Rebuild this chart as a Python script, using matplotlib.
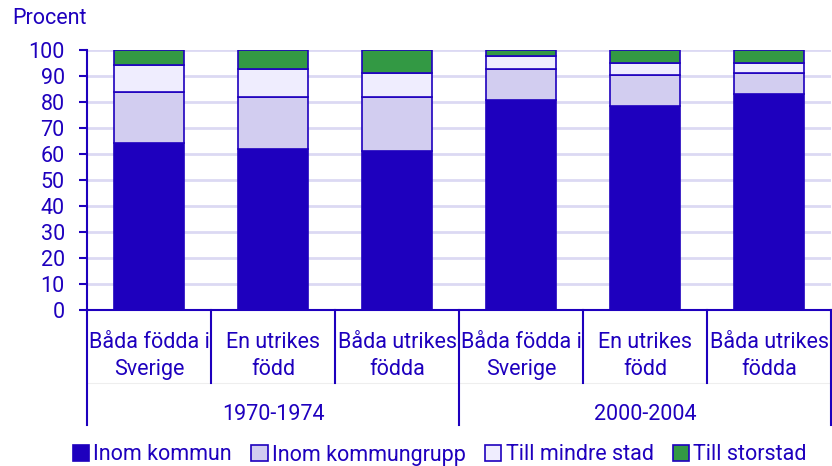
import matplotlib.pyplot as plt
import numpy as np

# Andel flyttningar per typ, uppdelat på föräldrarnas födelseland och period
groups = ['1970-1974', '2000-2004']
categories = ['Båda födda i\nSverige', 'En utrikes\nfödd', 'Båda utrikes\nfödda'] * 2
series_names = ['Inom kommun', 'Inom kommungrupp', 'Till mindre stad', 'Till storstad']
inom_kommun = [64.2, 61.9, 61.2, 80.8, 78.6, 83.2]
inom_kommungrupp = [19.5, 20.1, 20.8, 11.9, 11.9, 8.1]
till_mindre_stad = [10.6, 10.7, 9.3, 5.0, 4.6, 3.8]
till_storstad = [5.7, 7.3, 8.7, 2.3, 4.9, 4.9]

DARK = '#1e00be'
colors = ['#1e00be', '#d2cdf0', '#efedfe', '#339944']
FS = 15.5

plt.rcParams['font.family'] = ['Roboto', 'DejaVu Sans']

fig = plt.figure(figsize=(8.32, 4.66), dpi=100)
ax = fig.add_axes([87 / 832, 1 - 310 / 466, 744 / 832, 260 / 466])

x = np.arange(len(categories))
bottom = np.zeros(len(categories))
handles = []
for name, vals, col in zip(series_names,
                           [inom_kommun, inom_kommungrupp, till_mindre_stad, till_storstad],
                           colors):
    b = ax.bar(x, vals, width=0.565, bottom=bottom, color=col, edgecolor=DARK,
               linewidth=1.2, label=name, zorder=3)
    handles.append(b)
    bottom += np.array(vals)

ax.set_xlim(-0.5, len(categories) - 0.5)
ax.set_ylim(0, 100)
ax.set_yticks(range(0, 101, 10))
ax.yaxis.grid(True, color='#dcd9f3', linewidth=2, zorder=0)
ax.set_axisbelow(True)
ax.set_xticks([])
for s in ['top', 'right']:
    ax.spines[s].set_visible(False)
for s in ['left', 'bottom']:
    ax.spines[s].set_color(DARK)
    ax.spines[s].set_linewidth(1.5)
ax.tick_params(axis='y', colors=DARK, labelsize=FS, length=6, width=1.5, pad=10)

fig.text(12 / 832, 1 - 19 / 466, 'Procent', color=DARK, fontsize=FS, va='center', ha='left')

# hierarkisk x-axel
trans = ax.get_xaxis_transform()
for i, lab in enumerate(categories):
    ax.text(i, -0.178, lab, transform=trans, ha='center', va='center', color=DARK,
            fontsize=FS, linespacing=1.4)
for g, name in enumerate(groups):
    ax.text(g * 3 + 1, -0.4, name, transform=trans, ha='center', va='center',
            color=DARK, fontsize=FS)
for xs in np.arange(-0.5, len(categories), 1.0):
    long_line = (xs + 0.5) % 3 == 0
    y_end = -0.442 if long_line else -0.281
    ax.plot([xs, xs], [0, y_end], transform=trans, color=DARK, linewidth=1.5,
            clip_on=False)
ax.plot([-0.5, 5.5], [-0.281, -0.281], transform=trans, color='#eeeeee',
        linewidth=0.8, clip_on=False, zorder=0)

leg = fig.legend(handles=handles, loc='center', bbox_to_anchor=(440 / 832, 11 / 466),
                 ncol=4, frameon=False, fontsize=FS, handlelength=0.75, handleheight=0.75,
                 handletextpad=0.2, columnspacing=0.9, borderaxespad=0)
for t in leg.get_texts():
    t.set_color(DARK)

fig.savefig('out.png', dpi=100)
